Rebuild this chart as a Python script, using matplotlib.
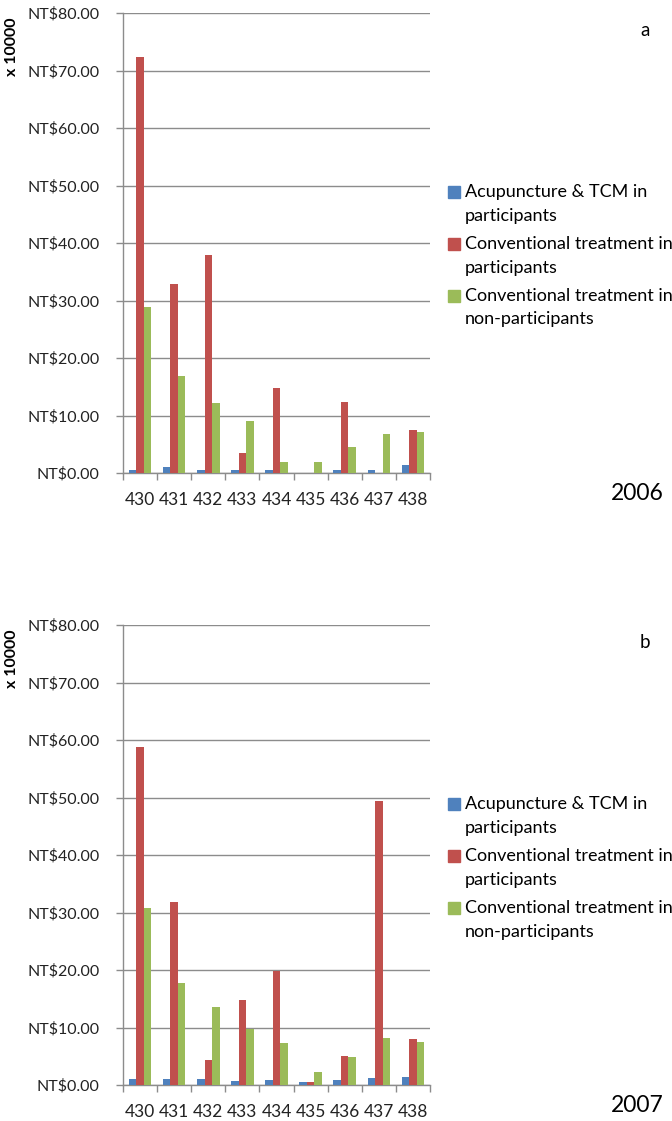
import matplotlib
matplotlib.use("Agg")
import matplotlib.pyplot as plt
from matplotlib.patches import Rectangle
import numpy as np

plt.rcParams['font.family'] = ['Lato', 'DejaVu Sans']

categories = ["430", "431", "432", "433", "434", "435", "436", "437", "438"]
series_names = ["Acupuncture & TCM in\nparticipants",
                "Conventional treatment in\nparticipants",
                "Conventional treatment in\nnon-participants"]
colors = ["#4F81BD", "#C0504D", "#9BBB59"]

acu_2006 = [0.5, 1.0, 0.5, 0.5, 0.5, 0.0, 0.5, 0.6, 1.4]
conv_part_2006 = [72.4, 32.8, 37.9, 3.4, 14.7, 0.0, 12.3, 0.0, 7.4]
conv_non_2006 = [28.8, 16.9, 12.2, 9.1, 1.9, 2.0, 4.5, 6.7, 7.2]

acu_2007 = [1.0, 1.1, 1.1, 0.75, 0.9, 0.6, 0.9, 1.15, 1.4]
conv_part_2007 = [58.8, 31.9, 4.3, 14.7, 19.8, 0.6, 5.05, 49.4, 8.0]
conv_non_2007 = [30.7, 17.8, 13.5, 9.7, 7.25, 2.2, 4.9, 8.2, 7.5]

yticks = [0, 10, 20, 30, 40, 50, 60, 70, 80]
ytick_labels = ["NT$%.2f" % v for v in yticks]

W, H = 672, 1121
fig = plt.figure(figsize=(W / 100, H / 100), dpi=100)


def fx(x):
    return x / W


def fy(y):
    return 1 - y / H


def panel(top, bottom, data, letter, year):
    left, right = 123, 430
    ax = fig.add_axes([fx(left), fy(bottom), fx(right - left), (bottom - top) / H])
    x = np.arange(len(categories))
    bw = 0.22
    for i, (vals, c) in enumerate(zip(data, colors)):
        ax.bar(x + (i - 1) * bw, vals, width=bw, color=c, edgecolor='none', zorder=3)
    ax.set_xlim(-0.5, len(categories) - 0.5)
    ax.set_ylim(0, 80)
    ax.set_yticks(yticks)
    ax.set_yticklabels(ytick_labels, fontsize=11.5, color='#222222')
    ax.set_xticks(x)
    ax.set_xticklabels(categories, fontsize=12.5, color='#222222')
    ax.set_xticks(np.arange(-0.5, len(categories), 1.0), minor=True)
    ax.tick_params(axis='x', which='major', length=0, pad=14)
    ax.tick_params(axis='x', which='minor', length=5, color='#8c8c8c', width=1)
    ax.tick_params(axis='y', which='major', length=5, color='#8c8c8c', width=1, pad=12)
    ax.yaxis.grid(True, color='#8c8c8c', linewidth=1, zorder=0)
    for s in ['top', 'right']:
        ax.spines[s].set_visible(False)
    for s in ['left', 'bottom']:
        ax.spines[s].set_color('#8c8c8c')
        ax.spines[s].set_linewidth(1)
    fig.text(fx(12), fy(top + 34), "x 10000", rotation=90, fontsize=11.5,
             fontweight='bold', ha='center', va='center')
    fig.text(fx(645), fy(top + 17), letter, fontsize=13.5, ha='center', va='center')
    fig.text(fx(637), fy(bottom + 20), year, fontsize=16.5, ha='center', va='center')
    # legend
    ly0 = top + 179
    for i, (name, c) in enumerate(zip(series_names, colors)):
        y = ly0 + i * 52
        fig.add_artist(Rectangle((fx(448), fy(y + 6)), fx(12), 12 / H, color=c,
                                 transform=fig.transFigure))
        for j, line in enumerate(name.split("\n")):
            fig.text(fx(465), fy(y + j * 23.5), line, fontsize=13, ha='left',
                     va='center')
    return ax


panel(13, 473, [acu_2006, conv_part_2006, conv_non_2006], "a", "2006")
panel(625, 1085, [acu_2007, conv_part_2007, conv_non_2007], "b", "2007")

fig.savefig("out.png", dpi=100)
